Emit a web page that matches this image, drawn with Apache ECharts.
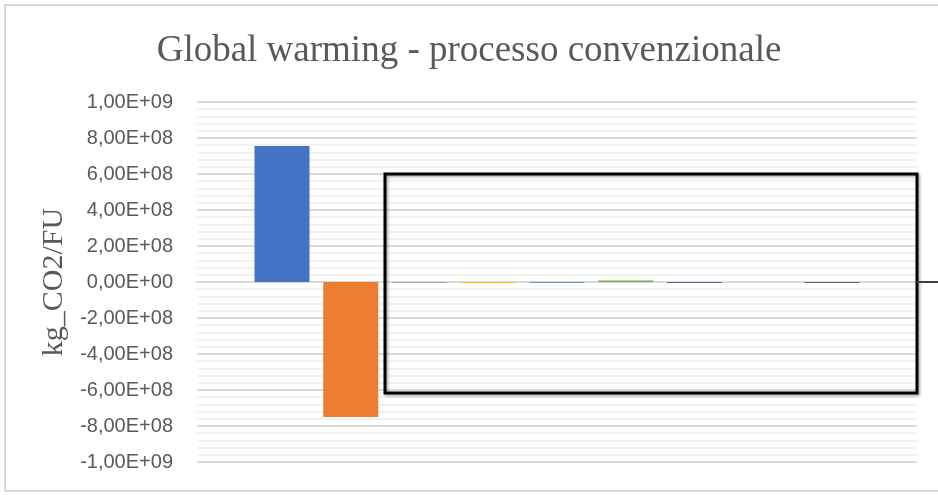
<!DOCTYPE html>
<html>
<head>
<meta charset="utf-8">
<script src="https://cdn.jsdelivr.net/npm/echarts@6/dist/echarts.min.js"></script>
<style>
  html, body { margin: 0; padding: 0; background: #fff; }
  #chart { width: 938px; height: 495px; }
</style>
</head>
<body>
<div id="chart"></div>
<script>
// Single category, one bar per process stage (kg CO2 per functional unit)
const categories = ['Processo convenzionale'];
const seriesNames = ['Fase 1', 'Fase 2', 'Fase 3', 'Fase 4', 'Fase 5', 'Fase 6', 'Fase 7', 'Fase 8', 'Fase 9'];
const seriesValues = [7.56e8, -7.50e8, -5e6, -6e6, -5e6, 8e6, -4e6, 0, -5e6];
const seriesColors = ['#4472C4', '#ED7D31', '#A5A5A5', '#FFC000', '#5B9BD5', '#70AD47', '#264478', '#9E480E', '#636363'];
const yMin = -1e9, yMax = 1e9, yStep = 2e8;
// Highlight frame bounds on the value axis
const frameTop = 6.0e8, frameBottom = -6.17e8;

function sciLabel(v) {
  if (v === 0) return '0,00E+00';
  const exp = Math.floor(Math.log10(Math.abs(v)) + 1e-9);
  const mant = v / Math.pow(10, exp);
  const e = (exp < 0 ? '-' : '+') + String(Math.abs(exp)).padStart(2, '0');
  return mant.toFixed(2).replace('.', ',') + 'E' + e;
}

const chart = echarts.init(document.getElementById('chart'), null, { renderer: 'canvas' });

const option = {
  animation: false,
  backgroundColor: '#ffffff',
  title: {
    text: 'Global warming - processo convenzionale',
    left: 'center',
    top: 28,
    textStyle: { fontFamily: 'Liberation Serif', fontSize: 37, fontWeight: 'normal', color: '#595959' }
  },
  grid: { left: 197, right: 21, top: 102, bottom: 33, containLabel: false },
  xAxis: {
    type: 'category',
    data: categories,
    axisLine: { show: true, onZero: true, lineStyle: { color: '#d9d9d9', width: 2 } },
    axisTick: { show: false },
    axisLabel: { show: false },
    splitLine: { show: false }
  },
  yAxis: {
    type: 'value',
    min: yMin,
    max: yMax,
    interval: yStep,
    name: 'kg_CO2/FU',
    nameLocation: 'middle',
    nameGap: 126,
    nameTextStyle: { fontFamily: 'Liberation Serif', fontSize: 30, color: '#595959' },
    axisLine: { show: false },
    axisTick: { show: false },
    axisLabel: {
      formatter: sciLabel,
      fontFamily: 'Liberation Sans',
      fontSize: 20,
      color: '#595959',
      margin: 24
    },
    splitLine: { show: true, lineStyle: { color: '#d9d9d9', width: 2 } },
    minorTick: { show: false, splitNumber: 5 },
    minorSplitLine: { show: true, lineStyle: { color: '#f2f2f2', width: 2 } }
  },
  series: seriesNames.map((name, i) => ({
    name: name,
    type: 'bar',
    data: [seriesValues[i]],
    barWidth: 55,
    barGap: '25%',
    itemStyle: { color: seriesColors[i] },
    z: 3
  })),
  graphic: []
};

chart.setOption(option);

// Outer chart border and highlight frame around the small contributions
const yTopPx = chart.convertToPixel({ yAxisIndex: 0 }, frameTop);
const yBotPx = chart.convertToPixel({ yAxisIndex: 0 }, frameBottom);
const yZeroPx = chart.convertToPixel({ yAxisIndex: 0 }, 0);
chart.setOption({
  graphic: [
    {
      type: 'polyline',
      shape: { points: [[5, 491], [5, 5], [938, 5]] },
      style: { stroke: '#d9d9d9', lineWidth: 2, fill: null },
      silent: true, z: 1
    },
    {
      type: 'line',
      shape: { x1: 5, y1: 491, x2: 938, y2: 491 },
      style: { stroke: '#d9d9d9', lineWidth: 2 },
      silent: true, z: 1
    },
    {
      type: 'rect',
      shape: { x: 385, y: yTopPx, width: 532, height: yBotPx - yTopPx },
      style: {
        fill: null, stroke: '#000000', lineWidth: 3,
        shadowColor: 'rgba(0,0,0,0.35)', shadowBlur: 3, shadowOffsetX: 1.5, shadowOffsetY: 1.5
      },
      silent: true, z: 10
    },
    {
      type: 'line',
      shape: { x1: 917, y1: yZeroPx, x2: 938, y2: yZeroPx },
      style: { stroke: '#404040', lineWidth: 2 },
      silent: true, z: 10
    }
  ]
});
</script>
</body>
</html>
